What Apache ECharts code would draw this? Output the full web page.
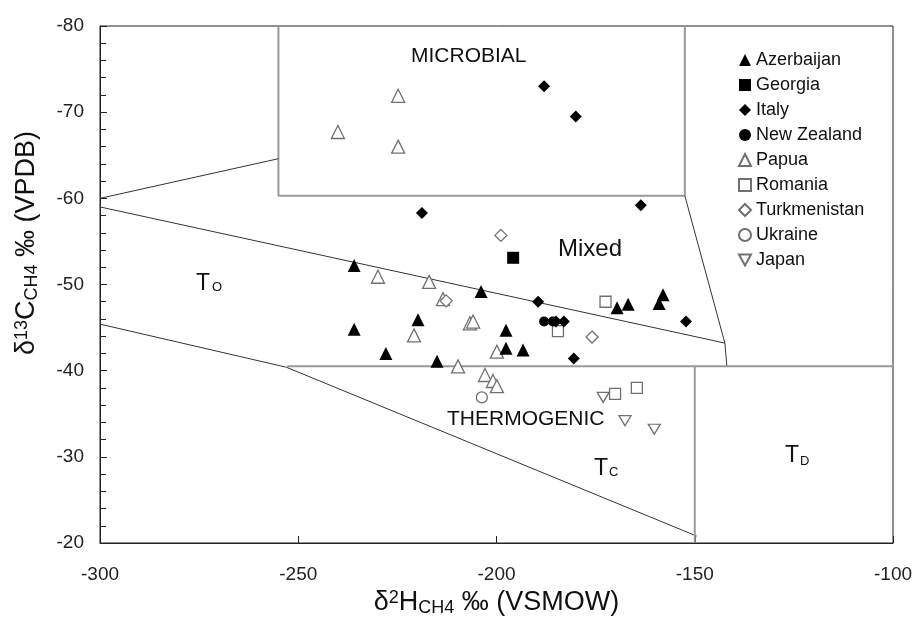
<!DOCTYPE html>
<html>
<head>
<meta charset="utf-8">
<script src="https://cdn.jsdelivr.net/npm/echarts@6/dist/echarts.min.js"></script>
<style>
  html, body { margin: 0; padding: 0; background: #fff; }
  #chart { width: 916px; height: 622px; }
</style>
</head>
<body>
<div id="chart"></div>
<script>
// points: [dD CH4, d13C CH4]
const azerbaijan = [[-235.9, -52.2], [-203.9, -49.2], [-169.6, -47.3], [-166.8, -47.7], [-158.0, -48.8],
  [-159.0, -47.8], [-235.9, -44.8], [-219.8, -45.9], [-227.9, -42.0], [-215.0, -41.1],
  [-197.6, -44.7], [-197.6, -42.6], [-193.3, -42.4]]
const georgia = [[-195.8, -53.1]]
const italy = [[-188.0, -73.0], [-180.0, -69.5], [-163.6, -59.2], [-218.8, -58.3], [-189.5, -48.0],
  [-180.5, -41.4], [-185.0, -45.7], [-183.0, -45.7], [-152.2, -45.7]]
const newZealand = [[-188.0, -45.7], [-185.8, -45.7]]
const papua = [[-224.8, -71.9], [-240.0, -67.7], [-224.8, -66.0], [-229.9, -50.9], [-217.0, -50.3],
  [-213.5, -48.3], [-220.8, -44.1], [-206.7, -45.5], [-205.9, -45.7], [-209.7, -40.5],
  [-202.9, -39.5], [-200.9, -38.8], [-199.9, -38.2], [-199.9, -42.2]]
const romania = [[-172.5, -48.0], [-184.5, -44.6], [-170.1, -37.3], [-164.6, -38.0]]
const turkmenistan = [[-198.9, -55.7], [-212.7, -48.1], [-175.9, -43.9]]
const ukraine = [[-203.7, -36.9]]
const japan = [[-173.1, -36.9], [-167.6, -34.2], [-160.2, -33.2]]

// field boundaries
const microbialBox = [[-255, -80], [-255, -60.3], [-152.5, -60.3], [-152.5, -80]]
const upperLeftLine = [[-300, -60], [-255, -64.6]]
const mixedUpperLine = [[-300, -59], [-142.4, -43.2]]
const mixedRightLine = [[-152.5, -60.3], [-142.4, -43.2], [-141.9, -40.5]]
const thermoTopLine = [[-252.8, -40.5], [-100, -40.5]]
const lowerLine = [[-300, -45.4], [-253, -40.4], [-149.5, -20.8]]
const tdLeftLine = [[-150, -40.5], [-150, -20]]

const FONT = 'Liberation Sans, Arial, sans-serif'
const GREY = '#707070'
const invTriangle = 'path://M0,0 L10,0 L5,9 Z'
const nameRich = {
  sup: { fontSize: 18, fontFamily: FONT, color: '#111', verticalAlign: 'top', padding: [0, 0, 10, 0] },
  sub: { fontSize: 18, fontFamily: FONT, color: '#111', verticalAlign: 'bottom', padding: [10, 0, 0, 0] }
}

function boundary(data, color, width) {
  return {
    type: 'line', data: data, symbol: 'none', silent: true, z: 1,
    lineStyle: { color: color, width: width }
  }
}

function filled(name, data, symbol, size) {
  return {
    name: name, type: 'scatter', data: data, symbol: symbol, symbolSize: size, z: 5,
    itemStyle: { color: '#000', opacity: 1 }
  }
}

function hollow(name, data, symbol, size) {
  return {
    name: name, type: 'scatter', data: data, symbol: symbol, symbolSize: size, z: 4,
    itemStyle: { color: '#fff', borderColor: GREY, borderWidth: 1.3, opacity: 1 }
  }
}

const chart = echarts.init(document.getElementById('chart'))
chart.setOption({
  animation: false,
  textStyle: { fontFamily: FONT },
  grid: { left: 100, right: 23, top: 26, bottom: 78, show: true, borderColor: '#222', borderWidth: 1 },
  legend: {
    orient: 'vertical', left: 733, top: 46, itemWidth: 12, itemHeight: 12, itemGap: 7,
    textStyle: { fontSize: 18, color: '#111', fontFamily: FONT },
    data: ['Azerbaijan', 'Georgia', 'Italy', 'New Zealand', 'Papua', 'Romania', 'Turkmenistan', 'Ukraine', 'Japan']
  },
  xAxis: {
    type: 'value', min: -300, max: -100, interval: 50,
    name: 'δ{sup|2}H{sub|CH4} ‰ (VSMOW)', nameLocation: 'middle', nameGap: 46,
    nameTextStyle: { fontSize: 27, color: '#111', rich: nameRich },
    axisLine: { lineStyle: { color: '#222' } },
    axisTick: { inside: true, length: 7, lineStyle: { color: '#222' } },
    axisLabel: { fontSize: 19, color: '#222', margin: 22 },
    splitLine: { show: false }
  },
  yAxis: {
    type: 'value', min: -80, max: -20, interval: 10, inverse: true,
    axisLine: { lineStyle: { color: '#222' } },
    axisTick: { inside: true, length: 7, lineStyle: { color: '#222' } },
    minorTick: { show: true, splitNumber: 5, length: 6, lineStyle: { color: '#222' } },
    axisLabel: { fontSize: 19, color: '#222', margin: 16 },
    splitLine: { show: false }
  },
  graphic: [
    {
      type: 'text', x: 27, y: 243, rotation: Math.PI / 2,
      style: {
        text: 'δ{sup|13}C{sub|CH4} ‰ (VPDB)', font: '27px ' + FONT, fill: '#111',
        align: 'center', verticalAlign: 'middle', rich: nameRich
      }
    },
    { type: 'text', left: 411, top: 46, style: { text: 'MICROBIAL', font: '21px ' + FONT, fill: '#111' } },
    { type: 'text', left: 558, top: 237, style: { text: 'Mixed', font: '24px ' + FONT, fill: '#111' } },
    { type: 'text', left: 447, top: 409, style: { text: 'THERMOGENIC', font: '21px ' + FONT, fill: '#111' } },
    { type: 'text', left: 196, top: 272, style: { text: 'T', font: '23px ' + FONT, fill: '#111' } },
    { type: 'text', left: 212, top: 281, style: { text: 'O', font: '13px ' + FONT, fill: '#111' } },
    { type: 'text', left: 594, top: 457, style: { text: 'T', font: '23px ' + FONT, fill: '#111' } },
    { type: 'text', left: 609, top: 466, style: { text: 'C', font: '13px ' + FONT, fill: '#111' } },
    { type: 'text', left: 785, top: 444, style: { text: 'T', font: '23px ' + FONT, fill: '#111' } },
    { type: 'text', left: 800, top: 455, style: { text: 'D', font: '13px ' + FONT, fill: '#111' } }
  ],
  series: [
    boundary(microbialBox, '#999', 2),
    boundary(upperLeftLine, '#333', 1),
    boundary(mixedUpperLine, '#333', 1),
    boundary(mixedRightLine, '#333', 1),
    boundary(thermoTopLine, '#999', 2),
    boundary(lowerLine, '#333', 1),
    boundary(tdLeftLine, '#999', 2),
    filled('Azerbaijan', azerbaijan, 'triangle', 13),
    filled('Georgia', georgia, 'rect', 12),
    filled('Italy', italy, 'diamond', 12),
    filled('New Zealand', newZealand, 'circle', 10),
    hollow('Papua', papua, 'triangle', 13),
    hollow('Romania', romania, 'rect', 11),
    hollow('Turkmenistan', turkmenistan, 'diamond', 12),
    hollow('Ukraine', ukraine, 'circle', 11),
    hollow('Japan', japan, invTriangle, [12, 10])
  ]
})
</script>
</body>
</html>
